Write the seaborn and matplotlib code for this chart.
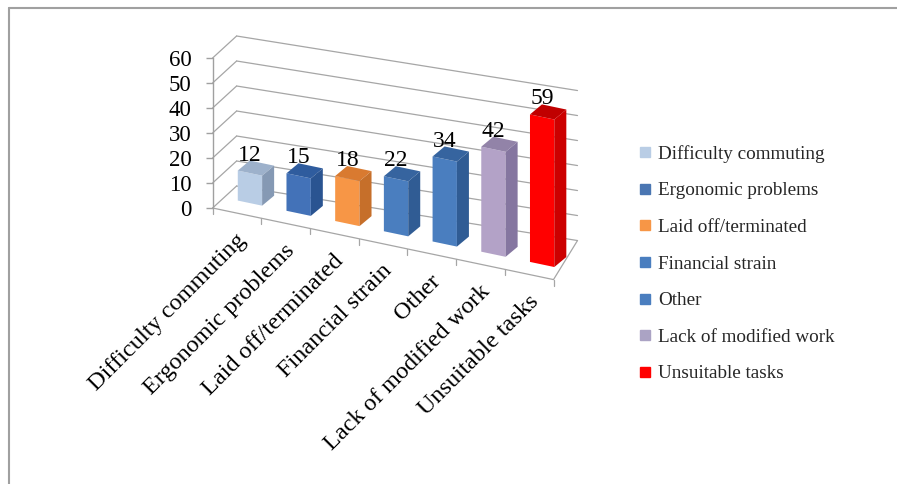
import numpy as np
import pandas as pd
import matplotlib
matplotlib.use("Agg")
import matplotlib.pyplot as plt
import matplotlib.transforms as mtransforms
from matplotlib.patches import Polygon
from matplotlib.lines import Line2D
import seaborn as sns

# ---------------- data ----------------
categories = ["Difficulty commuting", "Ergonomic problems", "Laid off/terminated",
              "Financial strain", "Other", "Lack of modified work", "Unsuitable tasks"]
values = [12, 15, 18, 22, 34, 42, 59]
yticks = [0, 10, 20, 30, 40, 50, 60]
front_colors = ["#B9CDE5", "#4372B8", "#F79646", "#4A7EBF", "#4A7EBF", "#B3A2C7", "#FF0000"]
top_colors = ["#9DB1CB", "#2F5C9E", "#D97A30", "#36649F", "#36649F", "#9283A8", "#C00000"]
side_colors = ["#8599B4", "#2A5491", "#C66F2A", "#305C94", "#305C94", "#8576A0", "#CC0000"]
legend_colors = ["#B9CDE5", "#4A76B2", "#F79646", "#4A7EBF", "#4A7EBF", "#ABA3C4", "#FF0000"]

sns.set_theme(style="white")
plt.rcParams['font.family'] = ['Liberation Serif', 'DejaVu Serif']

W, H = 897, 484
fig = plt.figure(figsize=(W / 100, H / 100), dpi=100)
fig.patch.set_facecolor("white")

# layout (pixels)
x0, x1 = 212.6, 553.5          # front plane x-range
y_zero_td = 208                # pixel row (top-down) of the 0 level at the y axis
ppu = 2.5                      # pixels per value unit
ax = fig.add_axes([x0 / W, 1 - y_zero_td / H, (x1 - x0) / W, 60 * ppu / H])
ax.patch.set_visible(False)

df = pd.DataFrame({"cat": categories, "val": values})
sns.barplot(data=df, x="cat", y="val", hue="cat", palette=front_colors, width=0.5,
            saturation=1, legend=False, linewidth=0, ax=ax)
ax.set_xlim(-0.5, 6.5)
ax.set_ylim(0, 60)

for s in ["top", "right", "bottom"]:
    ax.spines[s].set_visible(False)
ax.spines["left"].set_color("#A0A0A0")
ax.spines["left"].set_linewidth(1.0)
ax.set_xticks([])
ax.set_xlabel("")
ax.set_ylabel("")
ax.set_yticks(yticks)
ax.tick_params(axis="y", left=True, length=5, width=1, color="#A0A0A0",
               pad=10, labelsize=16.5, labelcolor="black")


def shear(k, dx=0.0, dy=0.0):
    return mtransforms.Affine2D(np.array([[1, 0, dx], [-k, 1, k * x0 + dy], [0, 0, 1]]))


T_front = ax.transData + shear(0.21)
T_bar = ax.transData + shear(0.21, 13, 10)
T_back = ax.transData + shear(0.16, 24, 22)
ident = mtransforms.IdentityTransform()
grid_c = "#A6A6A6"


def seg(p1, p2):
    ln = Line2D([p1[0], p2[0]], [p1[1], p2[1]], transform=ident,
                color=grid_c, lw=0.9, zorder=0.5)
    ln.set_clip_on(False)
    ax.add_artist(ln)


# back wall gridlines and left wall
for v in yticks:
    ax.plot([-0.5, 6.5], [v, v], transform=T_back, color=grid_c, lw=0.9,
            clip_on=False, zorder=0.5)
    seg(T_front.transform((-0.5, v)), T_back.transform((-0.5, v)))
# floor front edge, right edge, ticks
ax.plot([-0.5, 6.5], [0, 0], transform=T_front, color=grid_c, lw=0.9, clip_on=False, zorder=0.5)
seg(T_front.transform((6.5, 0)), T_back.transform((6.5, 0)))
for b in np.arange(-0.5, 7.0, 1.0):
    ax.plot([b, b], [0, -2.4], transform=T_front, color=grid_c, lw=0.9, clip_on=False, zorder=0.5)

# bars with depth faces
d = np.array([12.0, 10.0])
for p, tc, sc in zip(ax.patches, top_colors, side_colors):
    p.set_transform(T_bar)
    p.set_clip_on(False)
    x, w, h = p.get_x(), p.get_width(), p.get_height()
    tl, tr, br = T_bar.transform([(x, h), (x + w, h), (x + w, 0)])
    for pts, col in (([tl, tr, tr + d, tl + d], tc), ([br, tr, tr + d, br + d], sc)):
        poly = Polygon(pts, closed=True, transform=ident, facecolor=col,
                       edgecolor="none", zorder=1)
        poly.set_clip_on(False)
        ax.add_artist(poly)

# value labels
for i, v in enumerate(values):
    ax.text(i, v, str(v), transform=T_bar + mtransforms.Affine2D().translate(0, 18),
            ha="center", va="center", fontsize=17, color="black", clip_on=False)

# category labels
for i, c in enumerate(categories):
    ax.text(i, 0, c, transform=T_front + mtransforms.Affine2D().translate(6, -24),
            rotation=45, ha="right", va="center", rotation_mode="anchor",
            fontsize=17.5, color="black", clip_on=False)

# legend
handles = [Line2D([], [], marker="s", ls="", color=c, markersize=7) for c in legend_colors]
fig.legend(handles, categories, loc="upper left", bbox_to_anchor=(638 / W, 1 - 145 / H),
           frameon=False, fontsize=13.8, handlelength=0.7, handletextpad=0.35,
           labelspacing=1.0, borderpad=0, borderaxespad=0)

# outer frame (left & top)
fig.add_artist(Line2D([9 / W, 9 / W], [0, 1 - 8 / H], transform=fig.transFigure,
                      color="#A0A0A0", lw=1.5))
fig.add_artist(Line2D([9 / W, 1], [1 - 8 / H, 1 - 8 / H], transform=fig.transFigure,
                      color="#A0A0A0", lw=1.5))

fig.savefig("out.png", dpi=100)
